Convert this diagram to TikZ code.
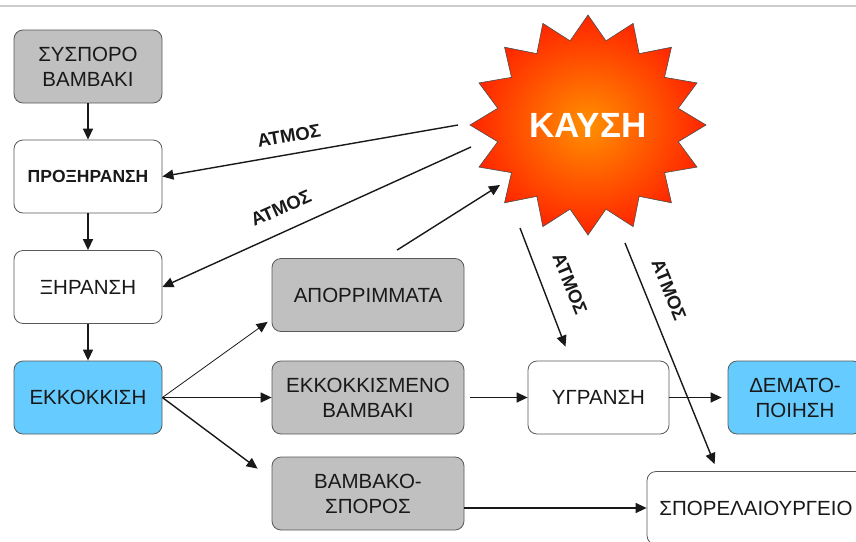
\documentclass[tikz,border=0pt]{standalone}
\usepackage{fontspec}
\setmainfont{Liberation Sans}
\usetikzlibrary{arrows.meta,calc}
\definecolor{boxgray}{HTML}{C0C0C0}
\definecolor{boxblue}{HTML}{66CCFF}
\definecolor{fireorange}{HTML}{FF9000}
\definecolor{firered}{HTML}{FF2400}
\begin{document}
\begin{tikzpicture}[x=1pt,y=-1pt,
  box/.style={draw=black!65, line width=0.8pt, rounded corners=9pt,
    minimum width=148pt, minimum height=73pt, align=center,
    font=\fontsize{20.5}{25}\selectfont, text=black!90, inner sep=0pt},
  graybox/.style={box, fill=boxgray},
  bluebox/.style={box, fill=boxblue},
  whitebox/.style={box, fill=white},
  flow/.style={line width=1.4pt, black!90, -{Triangle[length=11pt,width=10pt]}},
  thinflow/.style={line width=0.8pt, black!90, -{Triangle[length=11pt,width=10pt]}},
  steam/.style={font=\bfseries\fontsize{18.5}{18.5}\selectfont, text=black!90, inner sep=1pt}]

\fill[white] (0,0) rectangle (856,541);
\clip (0,0) rectangle (856,541);
\draw[line width=2pt, black!20] (0,6) -- (856,6);

% left column
\node[graybox]  (s1) at (88,66.5)  {ΣΥΣΠΟΡΟ\\ΒΑΜΒΑΚΙ};
\node[whitebox, font=\bfseries\fontsize{17.5}{22}\selectfont] (s2) at (88,176.5) {ΠΡΟΞΗΡΑΝΣΗ};
\node[whitebox] (s3) at (88,287)   {ΞΗΡΑΝΣΗ};
\node[bluebox]  (s4) at (88,397.5) {ΕΚΚΟΚΚΙΣΗ};

% middle column
\node[graybox, minimum width=192pt] (apo) at (368,295)   {ΑΠΟΡΡΙΜΜΑΤΑ};
\node[graybox, minimum width=192pt] (ekk) at (368,397.5) {ΕΚΚΟΚΚΙΣΜΕΝΟ\\ΒΑΜΒΑΚΙ};
\node[graybox, minimum width=192pt] (vam) at (368,493.5) {ΒΑΜΒΑΚΟ-\\ΣΠΟΡΟΣ};

% right part
\node[whitebox, minimum width=141pt] (ygr) at (598.5,397.5) {ΥΓΡΑΝΣΗ};
\node[bluebox, minimum width=134pt]  (dem) at (795,397.5)   {ΔΕΜΑΤΟ-\\ΠΟΙΗΣΗ};
\node[whitebox, minimum width=218pt] (spo) at (756,508)     {ΣΠΟΡΕΛΑΙΟΥΡΓΕΙΟ};

% star
\coordinate (kaysi) at (588,125);
\shade[inner color=fireorange, outer color=firered, draw=black!70, line width=0.6pt]
  (588,15)
  \foreach \k [evaluate=\k as \a using 90+\k*11.25,
               evaluate=\k as \r using {ifthenelse(mod(\k,2)==0,1,0.78)}] in {1,...,31}
    { -- ({588+118*\r*cos(\a)},{125-110*\r*sin(\a)}) } -- cycle;
\node[font=\bfseries\fontsize{35}{35}\selectfont, text=white] (kt) at (kaysi) {ΚΑΥΣΗ};

% vertical flow
\draw[flow] (s1) -- (s2);
\draw[flow] (s2) -- (s3);
\draw[flow] (s3) -- (s4);

% steam arrows
\draw[flow] ($(kaysi)+(-130,0)$) -- (s2.east);
\draw[flow] ($(kaysi)+(-117,22)$) -- (s3.east);
\draw[flow] ($(apo.north)+(29,-8)$) -- ($(kaysi)+(-88,60)$);
\draw[flow] ($(kaysi)+(-68,103)$) -- ($(ygr.north)+(-33,-14)$);
\draw[flow] ($(kaysi)+(37,118)$) -- ($(spo.north west)+(68,-7)$);

\node[steam, rotate=10]  (l1) at (289,136) {ΑΤΜΟΣ};
\node[steam, rotate=24]  (l2) at (281,208) {ΑΤΜΟΣ};
\node[steam, rotate=-68] (l3) at (570,284) {ΑΤΜΟΣ};
\node[steam, rotate=-68] (l4) at (669,290) {ΑΤΜΟΣ};

% separation
\draw[thinflow] (s4.east) -- ($(apo.south west)+(-4,-10)$);
\draw[flow] (s4.east) -- (ekk.west);
\draw[flow] (s4.east) -- ($(vam.north west)+(-14,12)$);

\draw[flow] ($(ekk.east)+(6,0)$) -- (ygr.west);
\draw[flow] (ygr.east) -- ($(dem.west)+(-6,0)$);
\draw[flow] (vam.east |- spo.west) -- (spo.west);
\end{tikzpicture}
\end{document}
